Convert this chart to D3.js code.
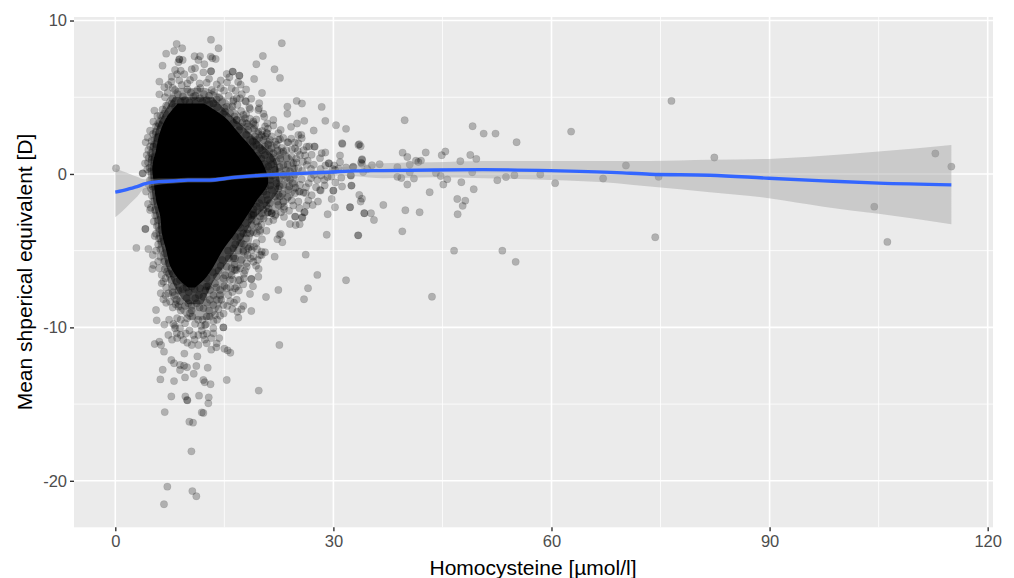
<!DOCTYPE html>
<html>
<head>
<meta charset="utf-8">
<script src="https://cdn.jsdelivr.net/npm/d3@7"></script>
<style>
  html, body { margin: 0; padding: 0; background: #fff; }
  svg { display: block; }
  text { font-family: "Liberation Sans", Arial, sans-serif; }
</style>
</head>
<body>
<svg id="svg1" width="1014" height="578"></svg>
<script>
var xTicks = [0, 30, 60, 90, 120];
var xMinorTicks = [15, 45, 75, 105];
var yTicks = [10, 0, -10, -20];
var yMinorTicks = [5, -5, -15];

// points, [homocysteine, mean SE]
var farPoints = [[76.5,4.76],[82.4,1.07],[74.73,-0.19],[74.27,-4.13],[104.4,-2.13],[106.2,-4.43],[112.8,1.33],[115,0.48],[0.1,0.37],[2.9,-4.82]];

var midPoints = [[39.8,3.5],[49.15,3.11],[50.67,2.63],[52.3,2.63],[55.2,2.07],[62.7,2.76],[70.24,0.55],[67.1,-0.3],[60.5,-0.6],[58.46,-0.04],
  [54.9,-0.08],[53.74,-0.2],[52.55,-0.41],[49.3,-1.0],[47.6,-0.54],[49.1,0.11],[47.46,0.83],[49.66,0.98],[48.83,1.24],[45.4,1.46],
  [44.9,1.22],[42.7,1.4],[42.05,0.87],[41.68,0.78],[41.36,0.87],[40.5,0.61],[40.17,1.11],[39.52,1.39],[38.8,0.44],[38.8,-0.19],
  [39.34,-0.26],[40.5,0.11],[41.08,-0.3],[40.17,-0.69],[44.1,0.07],[44.75,-0.13],[45.67,-0.35],[45.12,-0.69],[43.24,-1.19],[47.04,-1.63],
  [48.14,-1.74],[47.78,-2.08],[47.09,-2.63],[41.86,-2.5],[39.9,-2.37],[39.48,-3.74],[36.87,-2.02],[34.25,-2.56],[35.17,-2.56],[35.58,-3.0],
  [33.43,-4.0],[33.56,-1.37],[33.93,-1.61],[33.75,-1.8],[32.28,-2.17],[32.5,-0.76],[32.42,-0.11],[34.1,0.13],[34.66,0.33],[35.3,0.57],
  [36.36,0.63],[33.93,0.91],[33.8,0.74],[33.56,1.94],[33.75,1.81],[32.7,0.44],[46.6,-5.0],[53.24,-5.0],[55.07,-5.73],[43.56,-8.0]];

var rightPoints = [[20.18,5.28],[24.95,4.76],[25.68,4.59],[23.67,4.39],[23.67,3.92],[28.39,4.37],[28.89,3.46],[30.36,3.18],[31.74,2.94],[26.0,3.46],
  [25.0,3.29],[24.17,3.07],[27.29,2.83],[25.59,2.55],[31.19,2.0],[19.8,4.61],[19.77,4.28],[18.53,4.24],[17.98,4.72],[20.37,3.92],
  [21.74,3.52],[21.74,3.16],[22.75,2.87],[20.9,2.66],[22.43,2.66],[22.66,2.26],[21.28,2.22],[23.67,2.07],[25.18,2.0],[25.64,2.33],
  [26.65,1.79],[27.38,1.79],[24.72,1.68],[23.12,1.46],[21.51,1.68],[28.89,1.4],[28.39,1.35],[28.16,1.03],[26.46,0.87],[25.41,1.24],
  [24.26,1.13],[30.91,1.2],[30.91,0.77],[29.35,0.7],[33.94,0.96],[33.94,0.66],[26.92,0.33],[28.25,0.33],[29.9,0.33],[31.74,0.42],
  [32.74,0.48],[25.64,-0.34],[26.92,-0.28],[27.79,-0.39],[28.76,-0.39],[29.72,-0.17],[30.27,-0.56],[31.09,-0.24],[32.38,-0.08],[31.19,-0.82],
  [32.47,-0.76],[29.99,-1.08],[28.25,-1.08],[27.61,-0.87],[26.23,-0.87],[25.27,-1.15],[25.87,-1.21],[27.01,-1.39],[29.76,-1.63],[26.55,-1.73],
  [27.88,-1.8],[27.15,-2.02],[24.26,-1.73],[25.18,-1.8],[24.49,-2.06],[23.21,-2.13],[25.32,-2.23],[26.0,-2.49],[30.22,-2.17],[32.29,-2.17],
  [29.21,-2.63],[22.66,-1.47],[23.94,-0.82],[22.43,-0.97],[21.51,-2.56],[21.97,-2.73],[20.96,-2.49],[24.72,-2.78],[25.73,-2.82],[24.03,-0.34],
  [23.12,-0.06],[20.14,2.55],[19.45,2.22],[20.6,1.79],[22.2,1.9],[18.99,3.42],[17.61,3.85],[16.7,4.94],[16.24,4.72],[31.24,1.96],
  [33.44,1.89],[29.4,0.69],[30.23,0.26],[25.4,-1.15],[28.16,-1.05],[30,-1.09],[33.39,-4.0],[34.26,-2.56]];

var lowerRightPoints = [[29.08,-3.96],[26.05,-2.5],[25.68,-2.85],[24.77,-2.78],[24.03,-3.26],[24.81,-3.33],[25.36,-3.28],[23.21,-2.3],[21.74,-3.0],[21.51,-2.56],
  [22.06,-2.63],[21.05,-2.5],[22.75,-3.91],[22.57,-3.98],[22.29,-4.26],[22.98,-4.45],[20.18,-4.26],[19.91,-3.76],[19.68,-3.43],[21.92,-5.39],
  [26.19,-5.26],[27.79,-6.58],[31.74,-6.93],[26.51,-7.45],[25.96,-8.17],[22.43,-7.56],[20.73,-8.02],[18.53,-7.82],[18.94,-7.32],[19.68,-6.7],
  [18.71,-6.85],[18.71,-6.85],[17.71,-6.8],[19.72,-6.19],[19.36,-5.98],[18.07,-5.82],[20.14,-5.28],[20.14,-5.06],[18.99,-5.39],[18.3,-4.85],
  [17.61,-4.95],[19.08,-4.74],[17.16,-6.15],[17.84,-6.3],[16.47,-6.26],[16.0,-6.15],[16.93,-6.91],[16.47,-7.45],[15.78,-7.39],[16.7,-8.2],
  [16.33,-8.39],[18.71,-8.93],[17.61,-8.6],[17.34,-8.82],[16.79,-8.98],[16.93,-9.37]];

var bottomPoints = [[4.14,-3.59],[4.14,-3.59],[4.55,-4.89],[4.5,-1.96],[4.78,-2.35],[5.42,-4.04],[5.15,-5.28],[5.24,-5.93],[5.1,-6.19],[6.06,-6.15],
  [6.38,-7.13],[6.25,-7.78],[6.61,-8.17],[5.6,-8.87],[5.7,-9.54],[6.75,-9.82],[7.3,-10.5],[5.42,-11.08],[6.06,-10.93],[6.3,-11.15],
  [6.7,-11.58],[7.71,-12.13],[8.08,-12.34],[8.9,-12.45],[9.46,-12.5],[9.87,-12.6],[8.9,-12.78],[6.52,-12.76],[6.2,-13.39],[8.08,-13.5],
  [9.59,-13.26],[10.79,-13.02],[11.15,-12.52],[12.71,-12.63],[9.5,-11.71],[11.29,-11.89],[13.2,-11.45],[15.0,-11.39],[15.46,-11.5],[15.83,-11.65],
  [22.57,-11.15],[19.73,-14.12],[15.33,-13.43],[12.12,-13.43],[12.3,-13.58],[13.1,-13.71],[7.71,-14.5],[9.64,-14.5],[11.52,-14.45],[12.85,-14.56],
  [9.87,-14.73],[7.99,-9.78],[8.9,-10.06],[9.59,-9.73],[10.97,-9.78],[12.35,-9.84],[13.49,-10.06],[8.45,-10.39],[9.36,-10.82],[10.74,-10.5],
  [12.12,-10.5],[10.51,-11.15],[11.43,-11.15],[12.57,-11.04],[13.95,-11.04],[13.72,-9.19],[12.12,-8.76],[10.28,-9.08],[8.68,-8.65],[9.82,-8.1],
  [12.12,-8.0],[14.87,-10.0],[14.87,-10.0],[13.49,-10.39],[8.22,-10.06],[11.43,-10.5],[13.95,-8.2],[14.87,-8.54],[13.49,-8.54],[12.57,-9.3],
  [14.41,-9.24],[8.45,-8.2],[7.53,-8.32],[7.3,-7.78],[11.2,-8.43],[10.05,-8.43],[15.55,-7.89],[15.33,-7.45],[14.41,-7.56],[13.03,-7.56],
  [11.66,-7.45],[8,-7.34],[6.61,-7.02],[16.7,-7.34],[15.78,-6.91],[17.16,-6.91],[6.38,-6.58],[7.07,-6.37],[8.45,-7.02],[9.59,-7.02],
  [10.74,-6.91],[12.57,-6.8],[13.72,-7.13],[14.87,-6.8],[18.08,-6.04],[16.7,-6.26],[17.62,-5.06],[18.54,-4.74],[16.24,-5.39],[19,-5.72],
  [9.92,-14.76],[12.8,-14.95],[6.8,-15.52],[11.89,-15.54],[12.12,-15.58],[10.19,-16.15],[10.69,-16.21],[10.47,-18.08],[7.16,-20.38],[10.6,-20.67],
  [11.15,-21.01],[6.7,-21.53]];

var upperPoints = [[13.16,8.75],[8.44,8.47],[9.2,8.19],[8.1,8.02],[7.0,7.84],[14.2,8.19],[22.9,8.52],[20.3,7.69],[19.4,7.15],[21.9,6.82],
  [22.65,6.26],[19.1,6.19],[6.5,7.06],[10.9,7.67],[11.65,7.67],[8.81,7.47],[8.81,7.47],[9.27,7.43],[8.68,7.28],[11.43,7.43],
  [13.12,7.65],[13.81,7.49],[13.35,7.54],[12.25,7.15],[10.97,6.89],[10.51,6.82],[8.22,6.78],[9,6.73],[12.12,6.62],[13.17,6.69],
  [13.17,6.69],[15.33,6.52],[16.15,6.67],[16.15,6.67],[17.07,6.41],[17.07,6.41],[7.76,6.34],[7.71,6.02],[6.06,6.02],[6.75,5.65],
  [6.06,5.19],[6.84,5.0],[8.22,5.47],[9.14,5.8],[10.28,6.12],[11.29,5.47],[12.57,5.95],[13.95,5.84],[13.26,5.47],[14.96,5.43],
  [15.37,5.97],[16.0,5.58],[17.25,5.82],[16.56,5.43],[17.16,4.93],[16.24,4.82],[17.89,4.76],[13.95,4.86],[15.33,4.39],[18.44,4.34],
  [19.68,4.17],[20.5,3.73],[5.38,4.13],[5.79,3.78],[5.24,3.41],[4.78,2.82],[5.56,2.76],[4.46,2.37],[4.18,2.06],[4.55,1.56],
  [4.32,1.23],[4.09,0.69],[3.77,0.04],[3.77,0.04],[4.23,-1.15],[7.76,4.6],[10.74,5.04],[12.57,4.82],[18.08,3.3],[19.22,3.19],
  [20.83,2.65],[22.43,2.21],[23.8,2.06],[25.18,2.54],[26.33,1.78],[27.43,1.78]];

var haloPoints = [[16.7,3.52],[17.84,3.63],[18.99,3.31],[17.16,3.09],[18.3,2.87],[19.68,2.76],[20.6,3.09],[19.22,2.44],[18.53,2.22],[20.37,2.22],
  [21.05,1.89],[19.9,1.68],[18.99,1.79],[21.74,1.35],[20.6,1.24],[22.66,1.24],[23.57,1.03],[21.28,0.92],[22.2,0.81],[24.49,0.7],
  [23.12,0.59],[25.18,0.37],[21.05,0.48],[21.97,0.27],[24.03,0.16],[26.33,0.59],[21.28,-0.39],[22.2,-0.6],[23.12,-0.71],[20.6,-0.82],
  [21.51,-1.04],[23.8,-1.04],[20.82,-1.36],[21.97,-1.47],[20.14,-1.69],[21.28,-1.91],[22.43,-2.02],[19.45,-2.13],[20.37,-2.34],[18.99,-2.56],
  [19.91,-2.78],[18.3,-2.78],[18.76,-2.99],[16.24,-2.13],[17.61,-2.24],[18.99,-2.67],[20.14,-2.56],[17.84,-3.2],[18.76,-3.33],[16.93,-3.33],
  [17.61,-3.87],[16.47,-4.09],[18.53,-3.87],[17.16,-4.52],[16.24,-4.85],[16.47,-5.5],[4.78,0.15],[5.01,0.91],[5.24,1.78],[5.93,2.43],
  [6.16,3.19],[6.84,3.95],[8.22,4.39],[9.59,4.82],[11.66,4.93],[13.49,4.6],[15.1,4.06],[16.7,3.52],[4.78,-0.4],[5.15,-0.83],
  [5.47,-2.35],[5.93,-3.0],[6.16,-3.65],[6.38,-4.41],[6.84,-5.17],[7.3,-5.82],[8,-6.5],[8.9,-6.91],[10.51,-7.34],[12.57,-7.34],
  [13.95,-6.69],[15.33,-6.04],[16.24,-5.5],[17.39,-4.52],[18.08,-3.87],[18.76,-4.95],[19.91,-5.28],[19.45,-3.87],[19.91,-3.65],[18.76,-2.67]];

var ringPoints = [[7.2,5.3],[7.9,4.9],[8.6,5.2],[9.3,5.05],[9.9,5.5],[10.4,5.3],[11,5.1],[11.7,5.6],[12.2,5.2],[12.9,5.1],
  [13.6,5.35],[14.3,5.0],[14.7,4.7],[15.6,5.1],[16.1,4.4],[16.8,4.5],[7.0,4.45],[6.5,4.2],[9,4.7],[10.2,4.65],
  [11,4.6],[12,4.7],[13,4.55],[14,4.35],[15,4.3],[15.8,3.95],[17.3,4.1],[18,3.9],[16.4,3.75],[14.8,3.9],
  [6.2,3.8],[5.9,3.3],[6.5,3.5],[5.6,3.1],[16.2,3.3],[17.5,3.35],[18.5,3.6],[19.4,3.55],[18.2,3.1],[19.1,2.95],
  [20.2,2.8],[17,2.85],[21,2.95],[20.9,3.3],[5.2,2.6],[5.7,2.35],[5.0,2.15],[5.5,1.95],[18,2.55],[18.9,2.1],
  [19.8,2.35],[20.6,2.45],[21.5,2.45],[22,2.1],[21,1.95],[19.4,1.9],[23.1,2.35],[24.2,2.3],[24.7,2.05],[4.8,1.8],
  [4.9,1.35],[5.2,1.1],[4.6,1.05],[18.7,1.4],[19.6,1.2],[20.2,1.55],[21.2,1.45],[22.3,1.5],[22.9,1.7],[23.5,1.55],
  [24.3,1.6],[25.1,1.5],[25.9,1.55],[19.2,1.0],[20.1,1.0],[21.7,1.05],[22.7,1.0],[24.9,1.0],[26.1,1.2],[27,1.25],
  [4.5,0.75],[4.7,0.4],[4.4,0.3],[19.7,0.7],[20.5,0.65],[21.5,0.62],[22.6,0.45],[23.7,0.6],[24.9,0.75],[25.8,0.8],
  [20,0.3],[20.9,0.2],[22.6,0.15],[23.5,0.25],[24.6,0.35],[25.7,0.2],[27.3,0.6],[28.9,0.55],[30.1,0.55],[30.7,0.35],
  [4.6,-0.7],[4.9,-0.95],[20,-0.4],[20.6,-0.2],[21.6,-0.1],[22.6,-0.3],[23.6,-0.25],[24.7,-0.05],[25.4,-0.7],[26.6,-0.6],
  [27.3,-0.05],[28.3,-0.1],[29.2,-0.2],[20.4,-0.6],[21.3,-0.75],[22.6,-0.8],[24.4,-0.6],[24.8,-0.9],[28.8,-0.75],[5,-1.4],
  [5.2,-1.8],[4.9,-2.2],[19.8,-1.2],[20.4,-1.15],[21,-1.7],[22.4,-1.35],[23,-1.3],[23.7,-1.5],[24.7,-1.25],[26.2,-1.25],
  [22.3,-1.8],[23.1,-1.8],[26.3,-2.05],[19.8,-1.9],[20.8,-2.05],[5.5,-2.7],[5.3,-3.1],[19,-2.3],[21.1,-2.25],[22.8,-2.5],
  [23.9,-2.4],[20.4,-2.9],[19.4,-3.1],[21.1,-3.1],[23.2,-2.8],[5.7,-3.4],[5.6,-3.9],[6,-4.2],[17.2,-3.5],[18.2,-3.6],
  [20.1,-3.3],[19,-3.8],[20.8,-3.7],[17.2,-4.1],[18,-4.2],[5.9,-4.6],[6.2,-4.9],[5.6,-5.0],[16.5,-4.6],[17.7,-4.6],
  [19.4,-4.5],[16.9,-5],[15.5,-5],[19.5,-4.9],[18.2,-5.3],[20.6,-5.1],[6.2,-5.4],[6.7,-5.7],[5.9,-5.7],[14.7,-5.6],
  [15.6,-5.5],[17.3,-5.6],[14.5,-6],[16.4,-5.9],[18.6,-5.5],[19.6,-5.6],[6.8,-6.2],[7.4,-6.5],[6.9,-6.8],[8.9,-6.4],
  [13.4,-6.4],[11,-7],[12,-6.4],[14.2,-6.3],[15.1,-6.6],[16,-6.6],[16.2,-6.9],[17.7,-6.5],[9.8,-7.1],[7.7,-6.9],
  [7,-7.4],[6.9,-7.9],[7.9,-7.7],[8.7,-7.6],[9.3,-7.5],[10.1,-7.7],[10.9,-7.5],[11.5,-7.9],[12.4,-7.6],[13.5,-7.9],
  [14.4,-7.9],[15,-7.3],[16.1,-7.7],[17,-7.6],[17.6,-7.2],[8.2,-7.9],[9.8,-7.4],[12.8,-7.3],[13.9,-7.4],[7,-8.4],
  [7.9,-8.7],[8.3,-8.5],[9,-8.9],[9.6,-8.6],[10.5,-8.6],[11,-8.1],[11.6,-8.7],[12.6,-8.4],[12.9,-8.9],[13,-8.2],
  [14.2,-8.8],[14.6,-8.2],[15.4,-8.6],[15.8,-8.3],[16.1,-8.8],[8.9,-8.3],[10.5,-8.9],[8.5,-9.4],[9,-9.5],[9.9,-9.4],
  [10.6,-9.3],[11.4,-9.5],[12,-9.5],[12.5,-9.8],[13,-9.3],[13.5,-9.6],[14,-9.5],[14.9,-9.1],[8.2,-9.9],[7.4,-9.5],
  [11.8,-9.9],[7.8,-10.8],[8.5,-10.7],[9,-10.5],[9.7,-10.4],[10.2,-10.2],[11.9,-10.2],[12.6,-10.4],[12.3,-10.8],[13.2,-10.7],
  [14.3,-10.7],[10.9,-10.8],[9.9,-11],[13.9,-11.3],[7.3,5.8],[8.8,6.1],[9.5,6.5],[10.8,6.3],[11.6,5.9],[12.9,6.2],
  [14.5,6.1],[9.9,5.9],[7.9,5.6],[8.5,6.5],[14.5,5.6],[15.7,6.3],[16.9,6.0],[18,5.5],[17.4,5.2],[18.7,4.9]];

// solid black part of the cloud, [mean SE, left homocysteine, right homocysteine]
var denseCore = [[4.6,8.6,12.2],[3.73,7.1,15],[2.65,6.1,17],[1.56,5.6,19],[0.47,5.1,20.5],[-0.6,5.3,21],[-1.7,5.6,19.5],[-2.8,6.2,18],
  [-3.87,6.4,16.5],[-4.96,7.0,14.8],[-6.04,7.6,13.5],[-6.9,8.8,12.2],[-7.4,10,11]];

// nearly black rim of that core
var darkBand = [[5,8,13.5],[4,6.7,15.5],[3,5.7,17.8],[2,5.2,20],[1,4.9,22],[0,4.8,22.5],[-1,5,22.5],[-2,5.3,21],[-3,5.8,19],
  [-4,6,17.8],[-5,6.5,16.5],[-6,7,15],[-7,7.8,13.5],[-8,9,12.5],[-8.5,10,12]];

// crowded but not solid part around it
var crowdedBand = [[5.6,8.5,12.5],[5,7.3,15],[4,6.2,17],[3,5.3,19.5],[2,4.8,22],[1,4.5,24.5],[0,4.5,25],[-1,4.7,25],[-2,5,23.5],[-3,5.3,20.5],
  [-4,5.6,19],[-5,6,18.5],[-6,6.5,17.5],[-7,7.2,15.5],[-8,7.5,15],[-9,9,14],[-9.5,10,13]];

// fitted smooth
var fitX = [0,1,2,3,4,6,8,10,13,16,20,25,30,33,36.87,43.7,50.6,59.8,69,73.54,81.8,89.9,97.4,105,115];
var fitY = [-1.18,-1.09,-0.96,-0.83,-0.65,-0.5,-0.46,-0.4,-0.4,-0.24,-0.09,0.02,0.13,0.2,0.22,0.26,0.28,0.22,0.09,-0.02,-0.08,-0.28,-0.45,-0.6,-0.71];
var fitLow = [-2.82,-2.42,-1.94,-1.48,-0.95,-0.7,-0.63,-0.55,-0.55,-0.38,-0.24,-0.14,-0.1,-0.15,-0.28,-0.22,-0.28,-0.39,-0.6,-0.82,-1.19,-1.58,-2.13,-2.6,-3.28];
var fitHigh = [0.37,0.17,0,-0.18,-0.35,-0.3,-0.29,-0.25,-0.25,-0.1,0.06,0.18,0.36,0.55,0.7,0.76,0.85,0.85,0.85,0.85,0.92,0.98,1.18,1.46,1.89];

var svg = d3.select("svg#svg1");

var panel = { left: 74, right: 993, top: 17, bottom: 527.3 };

/*Scales*/
var xScale = d3.scaleLinear().domain([-5.68, 120.73]).range([panel.left, panel.right]);
var yScale = d3.scaleLinear().domain([10.23, -23.03]).range([panel.top, panel.bottom]);

svg.append("rect")
  .attr("x", panel.left)
  .attr("y", panel.top)
  .attr("width", panel.right - panel.left)
  .attr("height", panel.bottom - panel.top)
  .attr("fill", "#ebebeb");

var grid = svg.append("g").attr("id", "grid");

var drawGrid = function(values, scale, vertical, width) {
  grid.selectAll(null)
    .data(values)
    .enter()
    .append("line")
    .attr("x1", function(d) { return vertical ? scale(d) : panel.left; })
    .attr("x2", function(d) { return vertical ? scale(d) : panel.right; })
    .attr("y1", function(d) { return vertical ? panel.top : scale(d); })
    .attr("y2", function(d) { return vertical ? panel.bottom : scale(d); })
    .attr("stroke", "#fff")
    .attr("stroke-width", width);
};

drawGrid(xMinorTicks, xScale, true, 0.8);
drawGrid(yMinorTicks, yScale, false, 0.8);
drawGrid(xTicks, xScale, true, 1.6);
drawGrid(yTicks, yScale, false, 1.6);

var coreArea = d3.area()
  .y(function(d) { return yScale(d[0]); })
  .x0(function(d) { return xScale(d[1]); })
  .x1(function(d) { return xScale(d[2]); })
  .curve(d3.curveCatmullRom);

svg.append("path")
  .datum(crowdedBand)
  .attr("d", coreArea)
  .attr("fill", "#000")
  .attr("fill-opacity", 0.3);

svg.append("path")
  .datum(darkBand)
  .attr("d", coreArea)
  .attr("fill", "#000")
  .attr("fill-opacity", 0.55);

svg.append("path")
  .datum(denseCore)
  .attr("d", coreArea)
  .attr("fill", "#000");

var allPoints = farPoints.concat(midPoints, rightPoints, lowerRightPoints, bottomPoints, upperPoints, haloPoints, ringPoints);

svg.append("g")
  .attr("id", "points")
  .selectAll("circle")
  .data(allPoints)
  .enter()
  .append("circle")
  .attr("cx", function(d) { return xScale(d[0]); })
  .attr("cy", function(d) { return yScale(d[1]); })
  .attr("r", 3.7)
  .attr("fill", "#000")
  .attr("fill-opacity", 0.25)
  .attr("stroke", "#000")
  .attr("stroke-opacity", 0.1)
  .attr("stroke-width", 0.7);

var ribbon = d3.area()
  .x(function(d, i) { return xScale(fitX[i]); })
  .y0(function(d, i) { return yScale(fitLow[i]); })
  .y1(function(d, i) { return yScale(fitHigh[i]); })
  .curve(d3.curveMonotoneX);

svg.append("path")
  .datum(fitX)
  .attr("d", ribbon)
  .attr("fill", "#999")
  .attr("fill-opacity", 0.4);

var fitLine = d3.line()
  .x(function(d, i) { return xScale(fitX[i]); })
  .y(function(d, i) { return yScale(fitY[i]); })
  .curve(d3.curveMonotoneX);

svg.append("path")
  .datum(fitX)
  .attr("d", fitLine)
  .attr("fill", "none")
  .attr("stroke", "#3366ff")
  .attr("stroke-width", 3.4);

var xAxis = d3.axisBottom(xScale).tickValues(xTicks).tickSize(4).tickPadding(4).tickFormat(String);
var yAxis = d3.axisLeft(yScale).tickValues(yTicks).tickSize(4).tickPadding(3).tickFormat(String);

var xAxisG = svg.append("g")
  .attr("id", "x-axis")
  .attr("transform", "translate(0," + panel.bottom + ")")
  .call(xAxis);

var yAxisG = svg.append("g")
  .attr("id", "y-axis")
  .attr("transform", "translate(" + panel.left + ",0)")
  .call(yAxis);

[xAxisG, yAxisG].forEach(function(g) {
  g.select(".domain").remove();
  g.selectAll(".tick line").attr("stroke", "#333").attr("stroke-width", 1.4);
  g.selectAll(".tick text").attr("fill", "#4d4d4d").style("font-size", "16.5px");
});

svg.append("text")
  .attr("x", 533)
  .attr("y", 575)
  .attr("text-anchor", "middle")
  .style("font-size", "21px")
  .attr("fill", "#000")
  .text("Homocysteine [µmol/l]");

svg.append("text")
  .attr("transform", "translate(32,272) rotate(-90)")
  .attr("text-anchor", "middle")
  .style("font-size", "21px")
  .attr("fill", "#000")
  .text("Mean shperical equivalent [D]");
</script>
</body>
</html>
